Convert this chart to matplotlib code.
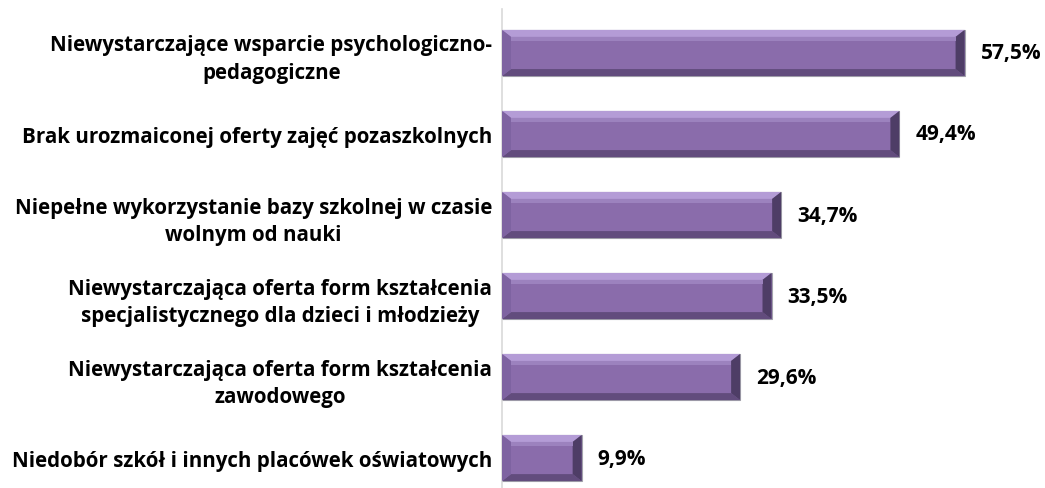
import matplotlib.pyplot as plt
from matplotlib.patches import Polygon

# Dane
categories = [
    "Niewystarczające wsparcie psychologiczno-\npedagogiczne",
    "Brak urozmaiconej oferty zajęć pozaszkolnych",
    "Niepełne wykorzystanie bazy szkolnej w czasie\nwolnym od nauki",
    "Niewystarczająca oferta form kształcenia\nspecjalistycznego dla dzieci i młodzieży",
    "Niewystarczająca oferta form kształcenia\nzawodowego",
    "Niedobór szkół i innych placówek oświatowych",
]
values = [57.5, 49.4, 34.7, 33.5, 29.6, 9.9]
value_labels = ["57,5%", "49,4%", "34,7%", "33,5%", "29,6%", "9,9%"]

plt.rcParams['font.family'] = ['Open Sans', 'DejaVu Sans']
plt.rcParams['font.weight'] = 'bold'

fig = plt.figure(figsize=(10.45, 4.89), dpi=100)
ax = fig.add_axes([502 / 1045, 0, 539 / 1045, 479 / 489])

pos = list(range(len(values)))
bars = ax.barh(pos, values, height=0.57, color='#8A6CAB', edgecolor='#A3A3AC', linewidth=0.8, zorder=2)

ax.set_xlim(0, 67)
ax.set_ylim(5.37, -0.543)

# efekt fazowania (bevel) na słupkach
bx = 9 / 8.05
by = 7 / 81
for i, r in enumerate(bars):
    x0, y0 = r.get_x(), r.get_y()
    x1, y1 = x0 + r.get_width(), y0 + r.get_height()
    top = [(x0, y0), (x1, y0), (x1 - bx, y0 + by), (x0 + bx, y0 + by)]
    bottom = [(x0, y1), (x1, y1), (x1 - bx, y1 - by), (x0 + bx, y1 - by)]
    left = [(x0, y0), (x0 + bx, y0 + by), (x0 + bx, y1 - by), (x0, y1)]
    right = [(x1, y0), (x1 - bx, y0 + by), (x1 - bx, y1 - by), (x1, y1)]
    ax.add_patch(Polygon(top, closed=True, color='#B49CD6', lw=0, zorder=3))
    ax.add_patch(Polygon(bottom, closed=True, color='#624C7D', lw=0, zorder=3))
    ax.add_patch(Polygon(left, closed=True, color='#7E63A1', lw=0, zorder=3))
    ax.add_patch(Polygon(right, closed=True, color='#4E3D66', lw=0, zorder=3))
    # podświetlenie
    ax.add_patch(Polygon([(x0 + bx, y0 + by), (x1 - bx, y0 + by),
                          (x1 - bx, y0 + 1.6 * by), (x0 + bx, y0 + 1.6 * by)],
                         closed=True, color='#9C82BE', lw=0, zorder=3))
    ax.text(x1 + 2.0, y0 + r.get_height() / 2, value_labels[i],
            va='center', ha='left', fontsize=15, fontweight='bold', color='black')

ax.set_yticks(pos)
ax.set_yticklabels(categories, fontsize=14.8, fontweight='bold', linespacing=1.4)
for t in ax.get_yticklabels():
    t.set_multialignment('center')
ax.tick_params(axis='y', length=0, pad=7)
ax.set_xticks([])

for s in ['top', 'right', 'bottom']:
    ax.spines[s].set_visible(False)
ax.spines['left'].set_color('#D9D9D9')
ax.spines['left'].set_linewidth(1.2)

fig.savefig('out.png', dpi=100)
